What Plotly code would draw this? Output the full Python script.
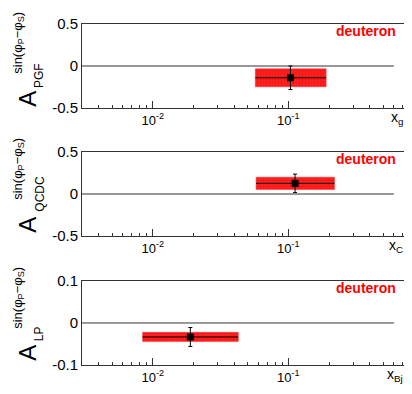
import math
import plotly.graph_objects as go

# ---- data ----
panels = ["PGF", "QCDC", "LP"]
xtitles = ["x<sub>g</sub>", "x<sub>C</sub>", "x<sub>Bj</sub>"]
x_mean = [0.1035, 0.112, 0.0189]
x_low = [0.057, 0.0578, 0.0084]
x_high = [0.19, 0.219, 0.0427]
asym = [-0.14, 0.127, -0.0333]
stat_err = [0.14, 0.11, 0.0225]
syst_err = [0.107, 0.073, 0.011]
y_ranges = [[-0.5, 0.5], [-0.5, 0.5], [-0.1, 0.1]]
y_tickvals = [[-0.5, 0, 0.5], [-0.5, 0, 0.5], [-0.1, 0, 0.1]]
y_ticktext = [["-0.5", "0", "0.5"], ["-0.5", "0", "0.5"], ["-0.1", "0", "0.1"]]
x_tickvals = [0.01, 0.1]
x_ticktext = ["10<sup>-2</sup>", "10<sup>-1</sup>"]
x_minor = [k * 1e-3 for k in range(3, 10)] + [k * 1e-2 for k in range(2, 10)] + [k * 1e-1 for k in range(2, 8)]
x_range = [0.003, 0.713]
zero_line_x = [0.003, 0.6]
label = "deuteron"

# ---- geometry (screen pixels; page body has an 8px margin) ----
SHIFT = 8
W, H = 412 - SHIFT, 394 - SHIFT
ML, MR, MT, MB = 82 - SHIFT, 7, 16 - SHIFT, 29
PW, PH = W - ML - MR, H - MT - MB
panel_top = [16, 147, 279]
panel_bot = [102, 233, 365]
a_bottom = [103, 232, 363]
a_top = [85, 211, 344]
sup_center = [35, 164, 296]


def px(x):
    return (x - SHIFT - ML) / PW


def py(y):
    return (H - MB - (y - SHIFT)) / PH


FONT = "Liberation Sans, Arial, Helvetica, sans-serif"
fig = go.Figure()
annotations = []

for i in range(3):
    xa = "x" if i == 0 else f"x{i+1}"
    ya = "y" if i == 0 else f"y{i+1}"
    # zero line
    fig.add_trace(go.Scatter(x=zero_line_x, y=[0, 0], mode="lines",
                             line=dict(color="#333333", width=1),
                             xaxis=xa, yaxis=ya, hoverinfo="skip", showlegend=False))
    # systematic box
    lo, hi = asym[i] - syst_err[i], asym[i] + syst_err[i]
    fig.add_trace(go.Scatter(x=[x_low[i], x_high[i], x_high[i], x_low[i], x_low[i]],
                             y=[lo, lo, hi, hi, lo], mode="lines", fill="toself",
                             fillcolor="#ff1010", line=dict(color="#ff3030", width=0.5),
                             fillpattern=dict(shape="+", fgcolor="#e00000", bgcolor="#ff2020",
                                              size=3, solidity=0.25),
                             xaxis=xa, yaxis=ya, hoverinfo="skip", showlegend=False))
    # point
    fig.add_trace(go.Scatter(x=[x_mean[i]], y=[asym[i]], mode="markers",
                             marker=dict(symbol="square", size=7, color="black"),
                             error_y=dict(type="data", array=[stat_err[i]], color="black",
                                          thickness=1, width=2),
                             error_x=dict(type="data", array=[x_high[i] - x_mean[i]],
                                          arrayminus=[x_mean[i] - x_low[i]], color="black",
                                          thickness=1, width=0),
                             xaxis=xa, yaxis=ya, showlegend=False))
    dom_y = [py(panel_bot[i]), py(panel_top[i])]
    fig.layout[("xaxis" if i == 0 else f"xaxis{i+1}")] = dict(
        type="log", range=[math.log10(x_range[0]), math.log10(x_range[1])],
        domain=[0, 1], anchor=ya,
        tickmode="array", tickvals=x_tickvals, ticktext=x_ticktext,
        ticks="inside", ticklen=7, tickcolor="#333333",
        minor=dict(tickmode="array", tickvals=x_minor, ticks="inside", ticklen=3, tickcolor="#333333"),
        showline=True, mirror=True, linecolor="#333333", linewidth=1,
        showgrid=False, zeroline=False,
        tickfont=dict(family=FONT, size=13, color="black"),
    )
    fig.layout[("yaxis" if i == 0 else f"yaxis{i+1}")] = dict(
        range=y_ranges[i], domain=dom_y, anchor=xa,
        tickmode="array", tickvals=y_tickvals[i], ticktext=y_ticktext[i],
        ticks="", showline=True, mirror=True, linecolor="#333333", linewidth=1,
        showgrid=False, zeroline=False,
        tickfont=dict(family=FONT, size=15, color="black"),
    )
    off = panel_top[i] - 16
    # deuteron label
    annotations.append(dict(x=px(399), y=py(23 + off), xref="paper", yref="paper",
                            text=f"<b>{label}</b>", showarrow=False, xanchor="right", yanchor="middle",
                            font=dict(family=FONT, size=14, color="#ff0000")))
    # x title
    annotations.append(dict(x=px(406), y=py(101 + off), xref="paper", yref="paper",
                            text=xtitles[i], showarrow=False, xanchor="right", yanchor="top",
                            font=dict(family=FONT, size=14, color="black")))
    # y title: big A
    annotations.append(dict(x=px(26.5), y=py(a_bottom[i]), xref="paper", yref="paper",
                            text="A", textangle=-90, showarrow=False,
                            xanchor="center", yanchor="bottom",
                            font=dict(family=FONT, size=24, color="black")))
    # subscript
    annotations.append(dict(x=px(39), y=py(a_top[i] - 1), xref="paper", yref="paper",
                            text=panels[i], textangle=-90, showarrow=False,
                            xanchor="center", yanchor="bottom",
                            font=dict(family=FONT, size=12, color="black")))
    # superscript
    annotations.append(dict(x=px(18), y=py(sup_center[i]), xref="paper", yref="paper",
                            text="sin(φ<sub>P</sub>−φ<sub>S</sub>)", textangle=-90, showarrow=False,
                            xanchor="center", yanchor="middle",
                            font=dict(family=FONT, size=13, color="black")))

fig.update_layout(width=W, height=H, margin=dict(l=ML, r=MR, t=MT, b=MB),
                  plot_bgcolor="white", paper_bgcolor="white",
                  annotations=annotations, showlegend=False)
fig.write_html("out.html")
